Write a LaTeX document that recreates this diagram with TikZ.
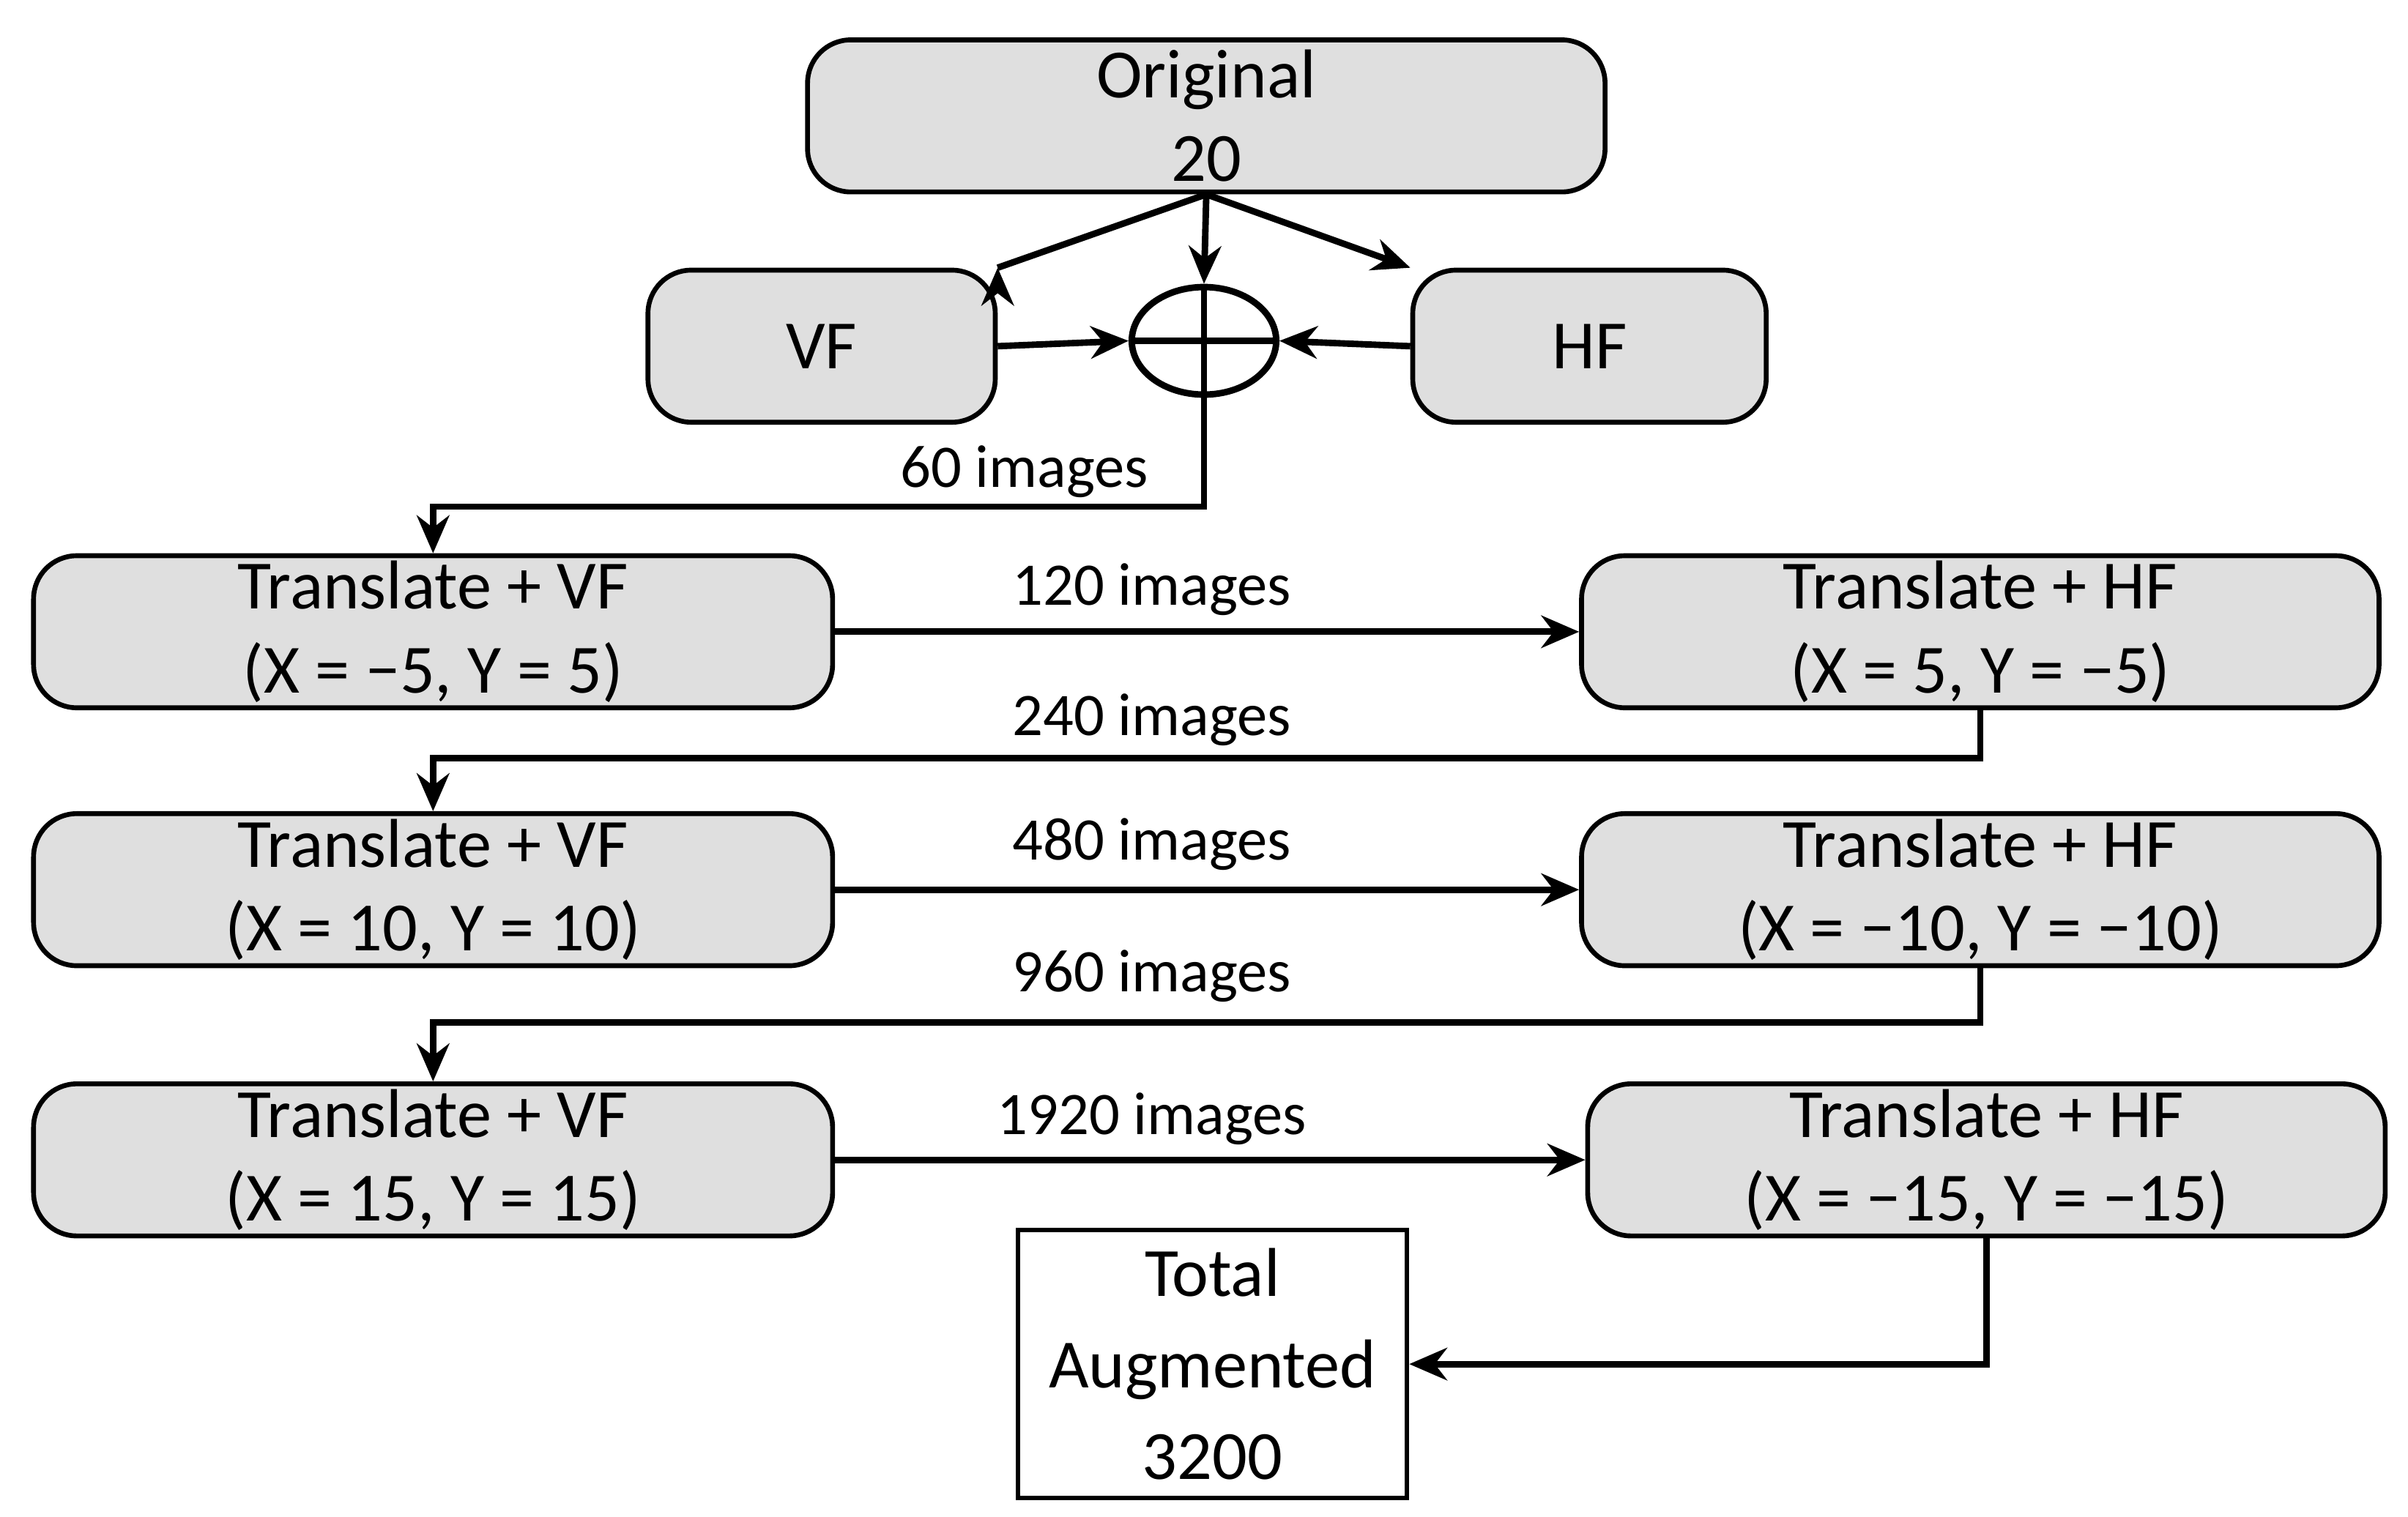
\documentclass[tikz,border=0pt]{standalone}
\usepackage{fontspec}
\setmainfont{Carlito}
\usetikzlibrary{shapes.geometric,arrows.meta}
\begin{document}
\begin{tikzpicture}[x=0.01cm,y=-0.01cm,
 box/.style={draw,line width=0.9pt,fill=gray!25,rounded corners=8pt,align=center,inner sep=0pt,font=\fontsize{12.8}{15.5}\selectfont},
 lab/.style={font=\fontsize{11.2}{13}\selectfont},
 arr/.style={line width=1.2pt,-{Stealth[length=7pt,width=6pt]}}]
\useasboundingbox (0,0) rectangle (1568,988);
\node[box,minimum width=519\pgflinewidth,minimum width=5.19cm,minimum height=0.99cm] (orig) at (785.5,75.5) {Original\\20};
\node[box,minimum width=2.26cm,minimum height=0.99cm] (vf) at (535,225.5) {VF};
\node[box,minimum width=2.30cm,minimum height=0.99cm] (hf) at (1035,225.5) {HF};
\node[draw,ellipse,line width=1.2pt,minimum width=0.94cm,minimum height=0.70cm,inner sep=0pt] (c) at (784,222) {};
\draw[line width=1.2pt] (c.north) -- (c.south) (c.west) -- (c.east);
\node[box,minimum width=5.2cm,minimum height=0.99cm] (l1) at (282,411.5) {Translate + VF\\(X = −5, Y = 5)};
\node[box,minimum width=5.19cm,minimum height=0.99cm] (r1) at (1289.5,411.5) {Translate + HF\\(X = 5, Y = −5)};
\node[box,minimum width=5.2cm,minimum height=0.99cm] (l2) at (282,579.5) {Translate + VF\\(X = 10, Y = 10)};
\node[box,minimum width=5.19cm,minimum height=0.99cm] (r2) at (1289.5,579.5) {Translate + HF\\(X = −10, Y = −10)};
\node[box,minimum width=5.2cm,minimum height=0.99cm] (l3) at (282,755.5) {Translate + VF\\(X = 15, Y = 15)};
\node[box,minimum width=5.19cm,minimum height=0.99cm] (r3) at (1293.5,755.5) {Translate + HF\\(X = −15, Y = −15)};
\node[draw,line width=0.9pt,minimum width=2.53cm,minimum height=1.55cm,align=center,font=\fontsize{12.8}{17}\selectfont] (tot) at (789.5,888.5) {Total\\Augmented\\3200};
\draw[arr] (orig.south) -- (vf.north east) ++(0,0);
\draw[arr] (orig.south) -- (c.north);
\draw[arr] (orig.south) -- (hf.north west);
\draw[arr] (vf.east) -- (c.west);
\draw[arr] (hf.west) -- (c.east);
\draw[arr] (c.south) |- (282,330) -- (l1.north);
\node[lab] at (667,307) {60 images};
\draw[arr] (l1.east) -- (r1.west);
\node[lab] at (750,384) {120 images};
\draw[arr] (r1.south) |- (282,494) -- (l2.north);
\node[lab] at (750,469) {240 images};
\draw[arr] (l2.east) -- (r2.west);
\node[lab] at (750,550) {480 images};
\draw[arr] (r2.south) |- (282,666) -- (l3.north);
\node[lab] at (750,636) {960 images};
\draw[arr] (l3.east) -- (r3.west);
\node[lab] at (750,729) {1920 images};
\draw[arr] (r3.south) |- (tot.east);
\end{tikzpicture}
\end{document}
